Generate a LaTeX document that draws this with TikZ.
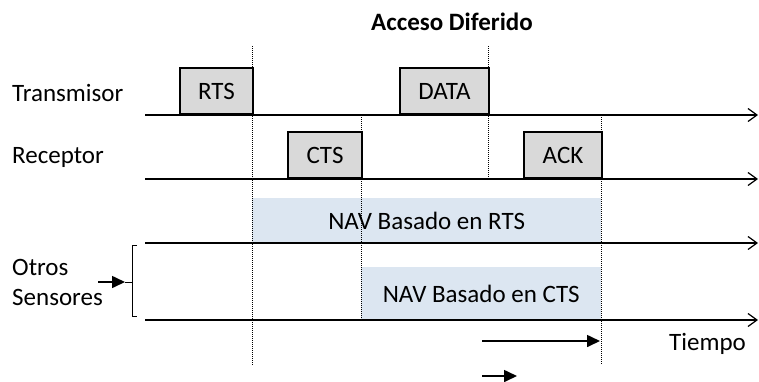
\documentclass[tikz,border=0pt]{standalone}
\usepackage{fontspec}
\setmainfont{Carlito}
\usetikzlibrary{arrows.meta}
\definecolor{pktgray}{HTML}{D9D9D9}
\definecolor{navblue}{HTML}{DCE6F1}
\tikzset{
  lbl/.style={font=\fontsize{25}{29}\selectfont, inner sep=0pt},
  pkt/.style={draw=black, line width=2pt, fill=pktgray, anchor=south west,
              minimum height=46, inner sep=0pt, font=\fontsize{25}{29}\selectfont},
  nav/.style={fill=navblue, anchor=north west, inner sep=0pt,
              font=\fontsize{25}{29}\selectfont},
  axis/.style={line width=2.2pt, -{Straight Barb[length=9pt,width=13pt,line width=1.2pt]}},
  guide/.style={line width=1pt, dash pattern=on 1pt off 1pt, black},
  ptr/.style={line width=1.6pt, -{Triangle[length=13pt,width=12pt]}}
}
\begin{document}
\begin{tikzpicture}[x=1pt,y=-1pt]
\useasboundingbox (0,0) rectangle (759,381);

% title
\node[lbl, font=\fontsize{25}{29}\selectfont\bfseries] (title) at (452,22) {Acceso Diferido};

% NAV periods (drawn first, underneath the guides)
\node[nav, minimum width=349, minimum height=45] (navrts) at (252,198) {NAV Basado en RTS};
\node[nav, minimum width=240, minimum height=53] (navcts) at (361,267) {NAV Basado en CTS};

% vertical timing guides
\coordinate (g1a) at (252,46);  \coordinate (g1b) at (252,365);
\coordinate (g2a) at (361,115); \coordinate (g2b) at (361,320);
\coordinate (g3a) at (488,46);  \coordinate (g3b) at (488,179);
\coordinate (g4a) at (601,115); \coordinate (g4b) at (601,365);
\draw[guide] (g1a) -- (g1b);
\draw[guide] (g2a) -- (g2b);
\draw[guide] (g3a) -- (g3b);
\draw[guide] (g4a) -- (g4b);

% frames
\node[pkt, minimum width=73] (rts)  at (179,115) {RTS};
\node[pkt, minimum width=89] (data) at (399,115) {DATA};
\node[pkt, minimum width=74] (cts)  at (287,179) {CTS};
\node[pkt, minimum width=78] (ack)  at (523,179) {ACK};

% time axes
\coordinate (tx0) at (145,115); \coordinate (tx1) at (758,115);
\coordinate (rx0) at (145,179); \coordinate (rx1) at (758,179);
\coordinate (o10) at (145,243); \coordinate (o11) at (758,243);
\coordinate (o20) at (145,320); \coordinate (o21) at (758,320);
\draw[axis] (tx0) -- (tx1);
\draw[axis] (rx0) -- (rx1);
\draw[axis] (o10) -- (o11);
\draw[axis] (o20) -- (o21);

% row labels
\node[lbl, anchor=west] (ltx) at (12,93) {Transmisor};
\node[lbl, anchor=west] (lrx) at (12,157) {Receptor};
\node[lbl, anchor=base west] (lot1) at (12,275) {Otros};
\node[lbl, anchor=base west] (lot2) at (12,305) {Sensores};

% bracket grouping the other sensors
\coordinate (bt) at (137,245); \coordinate (bb) at (137,316);
\coordinate (bm) at (125,282);
\draw[line width=1pt] (bt) -- (132,245) -- (132,316) -- (bb);
\draw[line width=1pt] (132,282) -- (bm);
\coordinate (pa) at (98,282);
\draw[ptr] (pa) -- (bm);

% time label and arrows
\node[lbl, anchor=base west] (tiempo) at (669,350) {Tiempo};
\coordinate (a1s) at (482,341); \coordinate (a1e) at (600,341);
\coordinate (a2s) at (482,376); \coordinate (a2e) at (517,376);
\draw[ptr] (a1s) -- (a1e);
\draw[ptr] (a2s) -- (a2e);
\end{tikzpicture}
\end{document}
